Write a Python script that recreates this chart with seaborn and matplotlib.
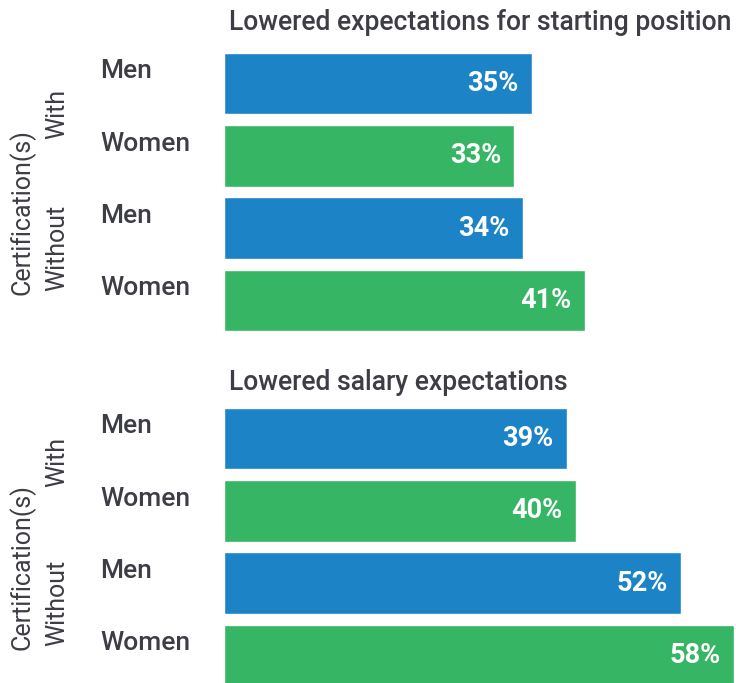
import matplotlib
matplotlib.use("Agg")
import matplotlib.pyplot as plt
import matplotlib.transforms as mtransforms
import pandas as pd
import seaborn as sns

titles = ["Lowered expectations for starting position", "Lowered salary expectations"]
groups = ["With", "With", "Without", "Without"]
genders = ["Men", "Women", "Men", "Women"]
starting_position = [35, 33, 34, 41]
salary = [39, 40, 52, 58]

palette = {"Men": "#1c84c6", "Women": "#36b565"}
text_color = "#3d3d45"

sns.set_theme(style="white")
plt.rcParams["font.family"] = ["Roboto", "DejaVu Sans"]

fig = plt.figure(figsize=(7.36, 6.83), dpi=100)

panels = [starting_position, salary]
tops = [53, 408]
title_gap = [31, 26]

for title, values, top, gap in zip(titles, panels, tops, title_gap):
    df = pd.DataFrame({
        "row": [f"{g} {s}" for g, s in zip(groups, genders)],
        "gender": genders,
        "value": values,
    })
    ax = fig.add_axes([224 / 736, 1 - (top + 278) / 683, 510 / 736, 278 / 683])
    sns.barplot(data=df, x="value", y="row", hue="gender", palette=palette,
                dodge=False, width=0.85, saturation=1, legend=False, ax=ax)
    ax.set_xlim(0, 58)
    ax.set_ylim(3.425, -0.425)
    ax.set_axis_off()

    # value labels inside bar ends
    for i, v in enumerate(values):
        ax.annotate(f"{v}%", (v, i), xytext=(-9.5, 0), textcoords="offset points",
                    ha="right", va="center", color="white", fontsize=19.5,
                    fontweight="bold")

    trans = mtransforms.blended_transform_factory(fig.transFigure, ax.transData)
    for i, s in enumerate(genders):
        fig.text(100 / 736, i - 0.17, s, transform=trans, ha="left", va="center",
                 fontsize=19, fontweight="medium", color=text_color)

    fig.text(57 / 736, 0.42 if top == 53 else 0.32, "With", transform=trans, rotation=90,
             ha="center", va="center", fontsize=18, color=text_color)
    fig.text(57 / 736, 2.28, "Without", transform=trans, rotation=90,
             ha="center", va="center", fontsize=18, color=text_color)
    fig.text(22 / 736, 1.78, "Certification(s)", transform=trans, rotation=90,
             ha="center", va="center", fontsize=18, color=text_color)

    fig.text(229 / 736, 1 - (top - gap) / 683, title, ha="left", va="center",
             fontsize=19.1, fontweight="medium", color=text_color)

fig.savefig("out.png", dpi=100)
